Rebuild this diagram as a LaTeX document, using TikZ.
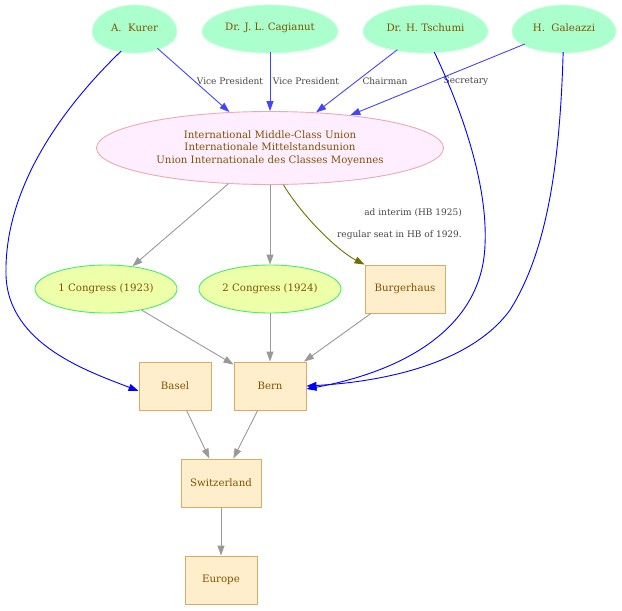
\documentclass[tikz,border=0pt]{standalone}
\usepackage{fontspec}
\setmainfont{DejaVu Serif}
\usetikzlibrary{shapes.geometric,arrows.meta}
\definecolor{txt}{HTML}{7F5200}
\definecolor{lbl}{HTML}{444444}
\definecolor{mint}{HTML}{AAFFCC}
\definecolor{mintb}{HTML}{C8FFDD}
\definecolor{pinkf}{HTML}{FFEEFF}
\definecolor{pinkb}{HTML}{EEAAAA}
\definecolor{congf}{HTML}{EEFFAA}
\definecolor{congb}{HTML}{44EE66}
\definecolor{boxf}{HTML}{FFEECC}
\definecolor{boxb}{HTML}{DDAA66}
\definecolor{role}{HTML}{4444FF}
\definecolor{blu}{HTML}{0000FF}
\definecolor{gry}{HTML}{999999}
\definecolor{oliv}{HTML}{707000}
\tikzset{
  nfont/.style={font=\fontsize{10.2}{12.3}\selectfont, text=txt},
  eggfill/.style={fill=mint, draw=mintb, line width=0.8pt},
  person/.style={ellipse, nfont, inner sep=0pt, minimum height=48pt},
  union/.style={ellipse, nfont, fill=pinkf, draw=pinkb, line width=0.9pt, inner sep=0pt, minimum width=347pt, minimum height=73pt, align=center},
  congress/.style={ellipse, nfont, fill=congf, draw=congb, line width=0.9pt, inner sep=0pt, minimum width=142pt, minimum height=48pt},
  place/.style={rectangle, nfont, fill=boxf, draw=boxb, line width=0.9pt, inner sep=0pt, minimum height=48pt},
  elabel/.style={font=\fontsize{9}{11}\selectfont, text=lbl, inner sep=0pt},
  tip/.style={-{Triangle[length=10pt,width=7pt]}},
  roleedge/.style={tip, draw=role, line width=0.9pt},
  bluedge/.style={tip, draw=blu, line width=0.9pt},
  grayedge/.style={tip, draw=gry, line width=0.9pt},
  oliveedge/.style={tip, draw=oliv, line width=0.9pt},
}
\newcommand\eggshape[3]{%
  \path[eggfill] ({#1-#3},32) arc[start angle=180, end angle=360, x radius=#3, y radius=27]
    arc[start angle=0, end angle=180, x radius=#3, y radius=21] -- cycle;}
\begin{document}
\begin{tikzpicture}[x=1pt,y=-1pt]
\useasboundingbox (0,0) rectangle (622,611);
% people (egg shapes)
\eggshape{134.5}{28}{42.5}
\eggshape{270}{28}{68}
\eggshape{425.5}{28}{62.5}
\eggshape{564}{28}{52}
\node[person, minimum width=85pt] (kurer) at (134.5,28) {A.\ \ Kurer};
\node[person, minimum width=136pt] (cag) at (270,28) {Dr. J. L. Cagianut};
\node[person, minimum width=125pt] (tsch) at (425.5,28) {Dr. H. Tschumi};
\node[person, minimum width=104pt] (gal) at (564,28) {H.\ \ Galeazzi};
% union
\node[union] (imcu) at (270,148) {International Middle-Class Union\\Internationale Mittelstandsunion\\Union Internationale des Classes Moyennes};
% congresses
\node[congress] (c1) at (106,289) {1 Congress (1923)};
\node[congress] (c2) at (270,289) {2 Congress (1924)};
\node[place, minimum width=80pt] (burg) at (405,289) {Burgerhaus};
% places
\node[place, minimum width=72pt] (basel) at (175,386) {Basel};
\node[place, minimum width=72pt] (bern) at (270,386) {Bern};
\node[place, minimum width=80pt] (swiss) at (221,483) {Switzerland};
\node[place, minimum width=72pt] (europe) at (221,580) {Europe};
% role edges
\draw[roleedge] (kurer) -- (imcu);
\draw[roleedge] (cag) -- (imcu);
\draw[roleedge] (tsch) -- (imcu);
\draw[roleedge] (gal) -- (imcu);
\node[elabel] (l1) at (230,81) {Vice President};
\node[elabel] (l2) at (306,81) {Vice President};
\node[elabel] (l3) at (385,81) {Chairman};
\node[elabel] (l4) at (466,81) {Secretary};
% blue long edges
\draw[bluedge] (kurer.240) .. controls (60,110) and (4,190) .. (6,275) .. controls (8,345) and (90,372) .. ([yshift=-5pt]basel.west);
\draw[bluedge] (tsch.290) .. controls (462,110) and (488,185) .. (485,245) .. controls (482,330) and (400,372) .. ([yshift=-3pt]bern.east);
\draw[bluedge] (gal.268) .. controls (560,160) and (548,250) .. (510,310) .. controls (470,365) and (380,382) .. (bern.east);
% gray edges
\draw[grayedge] (imcu) -- (c1);
\draw[grayedge] (imcu) -- (c2);
\draw[oliveedge] (imcu.290) .. controls (305,220) and (340,252) .. (burg.north west);
\node[elabel, anchor=east] (l5) at (462,213) {ad interim (HB 1925)};
\node[elabel, anchor=east] (l6) at (462,235) {regular seat in HB of 1929.};
\draw[grayedge] (c1) -- (bern);
\draw[grayedge] (c2) -- (bern);
\draw[grayedge] (burg) -- (bern);
\draw[grayedge] (basel) -- (swiss);
\draw[grayedge] (bern) -- (swiss);
\draw[grayedge] (swiss) -- (europe);
\end{tikzpicture}
\end{document}
